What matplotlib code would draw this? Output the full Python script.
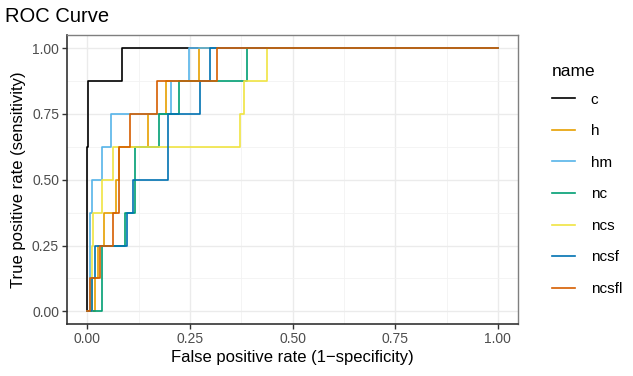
import numpy as np
import matplotlib
matplotlib.use("Agg")
import matplotlib.pyplot as plt

plt.rcParams['font.family'] = ['Liberation Sans', 'DejaVu Sans']

# ROC corner points: fpr where tpr jumps, tpr after the jump
names = ["c", "h", "hm", "nc", "ncs", "ncsf", "ncsfl"]
colors = ["#000000", "#E69F00", "#56B4E9", "#009E73", "#F0E442", "#0072B2", "#D55E00"]

fpr_c = [0, 0, 0.003, 0.084, 1]
tpr_c = [0, 0.625, 0.875, 1, 1]
fpr_h = [0, 0.02, 0.027, 0.04, 0.07, 0.078, 0.147, 0.191, 0.271, 1]
tpr_h = [0, 0.125, 0.25, 0.375, 0.5, 0.625, 0.75, 0.875, 1, 1]
fpr_hm = [0, 0.007, 0.011, 0.037, 0.057, 0.204, 0.248, 1]
tpr_hm = [0, 0.375, 0.5, 0.625, 0.75, 0.875, 1, 1]
fpr_nc = [0, 0.036, 0.092, 0.117, 0.174, 0.224, 0.389, 1]
tpr_nc = [0, 0.25, 0.375, 0.625, 0.75, 0.875, 1, 1]
fpr_ncs = [0, 0.011, 0.015, 0.036, 0.063, 0.372, 0.382, 0.438, 1]
tpr_ncs = [0, 0.25, 0.375, 0.5, 0.625, 0.75, 0.875, 1, 1]
fpr_ncsf = [0, 0.012, 0.019, 0.096, 0.112, 0.196, 0.275, 0.299, 1]
tpr_ncsf = [0, 0.125, 0.25, 0.375, 0.5, 0.75, 0.875, 1, 1]
fpr_ncsfl = [0, 0.007, 0.03, 0.062, 0.078, 0.105, 0.171, 0.315, 1]
tpr_ncsfl = [0, 0.125, 0.25, 0.375, 0.625, 0.75, 0.875, 1, 1]

fprs = [fpr_c, fpr_h, fpr_hm, fpr_nc, fpr_ncs, fpr_ncsf, fpr_ncsfl]
tprs = [tpr_c, tpr_h, tpr_hm, tpr_nc, tpr_ncs, tpr_ncsf, tpr_ncsfl]

fig = plt.figure(figsize=(6.33, 3.76), dpi=100)
ax = fig.add_axes([0.1054, 0.137, 0.7136, 0.770])

for nm, col, fx, ty in zip(names, colors, fprs, tprs):
    ax.step(fx, ty, where="post", color=col, lw=1.2, label=nm)

ax.set_xlim(-0.05, 1.05)
ax.set_ylim(-0.05, 1.05)
ticks = [0, 0.25, 0.5, 0.75, 1]
ax.set_xticks(ticks)
ax.set_yticks(ticks)
ax.set_xticklabels(["0.00", "0.25", "0.50", "0.75", "1.00"])
ax.set_yticklabels(["0.00", "0.25", "0.50", "0.75", "1.00"])
ax.set_xticks([0.125, 0.375, 0.625, 0.875], minor=True)
ax.set_yticks([0.125, 0.375, 0.625, 0.875], minor=True)
ax.grid(True, which="major", color="#EBEBEB", lw=1.0)
ax.grid(True, which="minor", color="#F2F2F2", lw=0.6)
ax.set_axisbelow(True)
ax.tick_params(which="major", length=3.5, width=1.0, color="#333333",
               labelsize=10, labelcolor="#4D4D4D", pad=2)
ax.tick_params(which="minor", length=0)
for side in ["left", "bottom"]:
    ax.spines[side].set_color("#333333")
    ax.spines[side].set_linewidth(1.2)
for side in ["top", "right"]:
    ax.spines[side].set_color("#7F7F7F")
    ax.spines[side].set_linewidth(1.0)

ax.set_xlabel("False positive rate (1\u2212specificity)", fontsize=12, labelpad=3)
ax.set_ylabel("True positive rate (sensitivity)", fontsize=12, labelpad=4)
fig.text(0.008, 0.955, "ROC Curve", fontsize=14.5, ha="left", va="center")

leg = fig.legend(loc="upper left", bbox_to_anchor=(0.85, 0.867), frameon=False,
                 title="name", fontsize=11, title_fontsize=12.5,
                 handlelength=1.55, labelspacing=1.15, handletextpad=1.0,
                 alignment="left")
leg._legend_box.sep = 10

fig.savefig("out.png", dpi=100)
